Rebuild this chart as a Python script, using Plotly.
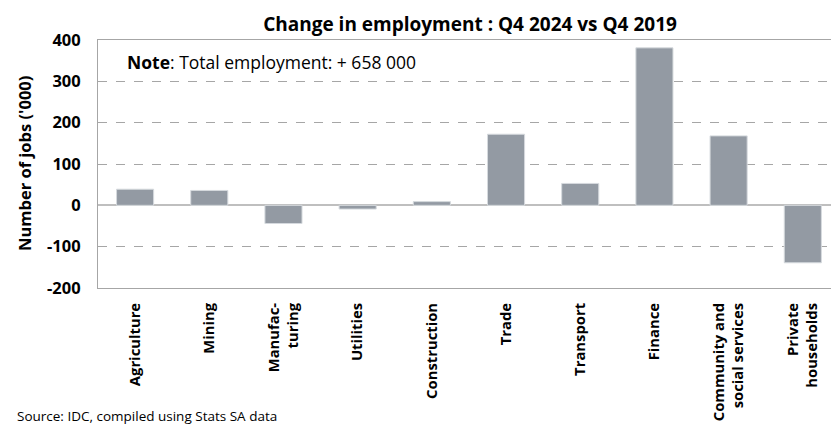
import plotly.graph_objects as go

# Change in employment by sector, Q4 2024 vs Q4 2019 ('000 jobs)
sectors = [
    "Agriculture", "Mining", "Manufac-<br>turing", "Utilities", "Construction",
    "Trade", "Transport", "Finance", "Community and<br>social services",
    "Private<br>households",
]
change_000 = [39, 36, -44, -9, 9, 172, 53, 381, 168, -139]
y_ticks = [-200, -100, 0, 100, 200, 300, 400]

W, H = 831, 424
L, R, T, B = 98, 0, 40, 136
FONT = "Open Sans"

fig = go.Figure(
    go.Bar(
        x=list(range(len(sectors))),
        y=change_000,
        marker=dict(color="#939AA3", line=dict(color="#d6dade", width=1)),
        width=0.5,
        hoverinfo="skip",
    )
)

fig.update_layout(
    width=W,
    height=H,
    margin=dict(l=L, r=R, t=T, b=B),
    paper_bgcolor="white",
    plot_bgcolor="white",
    showlegend=False,
    font=dict(family=FONT, color="black"),
    title=dict(
        text="<b>Change in employment : Q4 2024 vs Q4 2019</b>",
        font=dict(family=FONT, size=19, color="black"),
        x=470 / W,
        xanchor="center",
        y=1 - 24 / H,
        yanchor="middle",
    ),
)

fig.update_xaxes(
    automargin=False,
    tickmode="array",
    tickvals=list(range(len(sectors))),
    ticktext=[f"<b>{s}</b>" for s in sectors],
    tickangle=-90,
    tickfont=dict(family=FONT, size=14.8, color="black"),
    range=[-0.5, 9.38],
    showgrid=False,
    showline=True,
    linecolor="#a6a6a6",
    linewidth=1,
    mirror=True,
    ticks="",
    ticklabelstandoff=8,
    zeroline=False,
)

fig.update_yaxes(
    automargin=False,
    range=[-200, 400],
    tickvals=y_ticks,
    ticktext=[f"<b>{v}</b>" for v in y_ticks],
    tickfont=dict(family=FONT, size=16.5, color="black"),
    showgrid=True,
    gridcolor="#a6a6a6",
    griddash="dash",
    gridwidth=1,
    showline=True,
    linecolor="#a6a6a6",
    linewidth=1,
    zeroline=True,
    zerolinecolor="#bfbfbf",
    zerolinewidth=2,
    ticks="",
    ticklabelstandoff=13,
)

fig.add_annotation(
    text="<b>Number of jobs ('000)</b>",
    xref="paper", yref="paper",
    x=0, y=0.5,
    xshift=-74,
    textangle=-90,
    showarrow=False,
    font=dict(family=FONT, size=16.5, color="black"),
    xanchor="center", yanchor="middle",
)

fig.add_annotation(
    text="<b>Note</b>: Total employment: + 658 000",
    xref="paper", yref="paper",
    x=0, y=1,
    xshift=127 - L - 2,
    yshift=-22,
    showarrow=False,
    font=dict(family=FONT, size=17.5, color="black"),
    xanchor="left", yanchor="middle",
)

fig.add_annotation(
    text="Source: IDC, compiled using Stats SA data",
    xref="paper", yref="paper",
    x=0, y=0,
    xshift=17 - L - 2,
    yshift=-(405 - (H - B)),
    showarrow=False,
    font=dict(family=FONT, size=13.5, color="black"),
    xanchor="left", yanchor="top",
)

fig.write_html("out.html")
